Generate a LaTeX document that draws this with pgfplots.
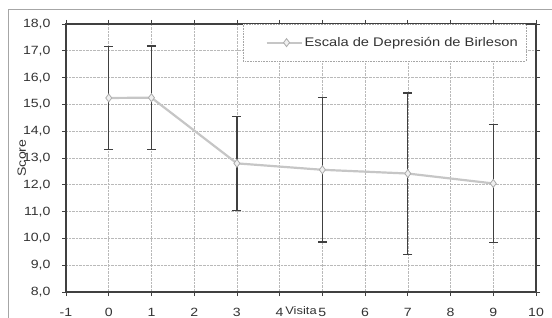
\documentclass[border=0pt]{standalone}
\usepackage{pgfplots}
\pgfplotsset{compat=1.18}
\usepackage{fontspec}
\setmainfont[FakeStretch=1.18]{Liberation Sans}
\begin{document}
\begin{tikzpicture}
\useasboundingbox (-66bp,-26bp) rectangle (486bp,292bp);
\draw[gray!70, line width=0.8bp] (-58bp,-40bp) -- (-58bp,283bp) -- (520bp,283bp);
\begin{axis}[
  at={(0,0)}, anchor=south west,
  scale only axis, width=470bp, height=268bp,
  xmin=-1, xmax=10, ymin=8, ymax=18,
  xtick={-1,0,...,10}, ytick={8,9,...,18},
  grid=major,
  grid style={densely dotted, gray!55, line width=0.6bp},
  axis line style={black!75, line width=1.3bp},
  tick align=outside,
  major tick length=4bp,
  tick style={black!75, line width=0.8bp},
  /pgf/number format/assume math mode=true,
  y tick label style={/pgf/number format/.cd, fixed, fixed zerofill, precision=1, use comma},
  tick label style={font=\fontsize{12}{14}\selectfont, text=black!80},
  xticklabel shift=9bp,
  yticklabel shift=8bp,
  xlabel={Visita}, ylabel={Score},
  xlabel style={font=\fontsize{11}{13}\selectfont, text=black!80, at={(rel axis cs:0.5,0)}, anchor=base, yshift=-22bp},
  ylabel style={font=\fontsize{12}{14}\selectfont, text=black!80, at={(axis description cs:-0.094,0.5)}, anchor=center},
  legend style={at={(rel axis cs:0.979,1)}, anchor=north east, draw=gray!70, densely dotted, line width=0.6bp,
    font=\fontsize{12.5}{14}\selectfont, text=black!80, inner xsep=6bp, inner ysep=11bp},
  legend image code/.code={\path (-16bp,0bp) (35bp,0bp);
    \draw[solid, mark repeat=2, mark phase=2] plot coordinates {(0bp,0bp) (20bp,0bp) (35bp,0bp)};},
]
\addplot[draw=none, mark=none, forget plot,
  error bars/.cd, y dir=both, y explicit,
  error bar style={solid, line width=1.3bp, black!75},
  error mark=|,
  error mark options={solid, mark size=4.5bp, line width=1.3bp, black!75}]
  coordinates {
  (0,15.24) +- (0,1.93)
  (1,15.25) +- (0,1.93)
  (3,12.80) +- (0,1.76)
  (5,12.56) +- (0,2.69)
  (7,12.42) +- (0,3.01)
  (9,12.05) +- (0,2.20)
};
\addplot[solid, gray!45, line width=2.2bp, mark=diamond*, mark size=4bp,
  mark options={solid, fill=gray!12, draw=gray!65, line width=0.8bp}]
  coordinates {(0,15.24) (1,15.25) (3,12.80) (5,12.56) (7,12.42) (9,12.05)};
\addlegendentry{Escala de Depresión de Birleson}
\end{axis}
\end{tikzpicture}
\end{document}
